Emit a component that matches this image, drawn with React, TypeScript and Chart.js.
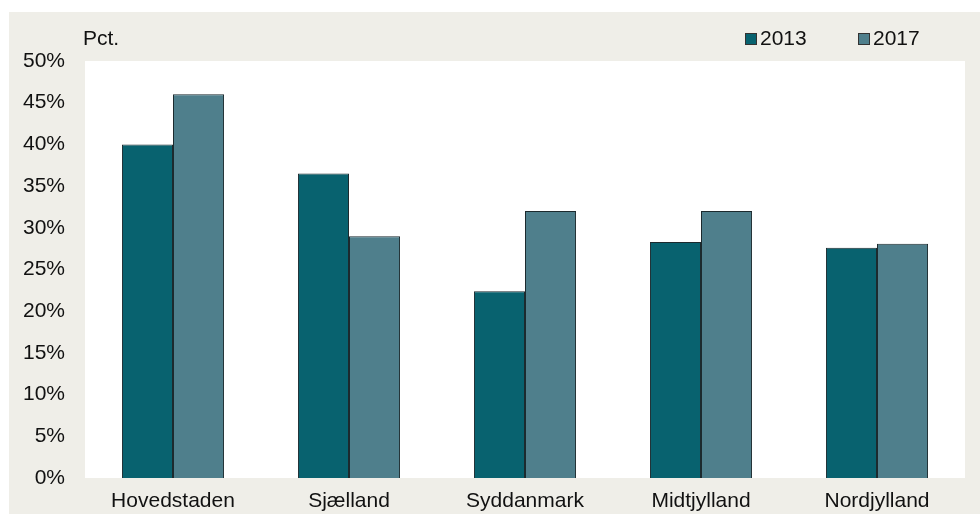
import React, { useEffect, useRef } from "react";
import { Chart, registerables } from "chart.js";

Chart.register(...registerables);

const categories = ["Hovedstaden", "Sjælland", "Syddanmark", "Midtjylland", "Nordjylland"];
const series2013 = [40.0, 36.5, 22.4, 28.3, 27.6];
const series2017 = [46.0, 29.0, 32.0, 32.0, 28.1];
const seriesLabels = ["2013", "2017"];
const seriesColors = ["#08626f", "#4f7f8c"];
const yTicks = [0, 5, 10, 15, 20, 25, 30, 35, 40, 45, 50];
const unitLabel = "Pct.";

const FONT = "'Liberation Sans', Arial, sans-serif";
const FS = 21;

const bgPlugin = {
  id: "bgPlugin",
  beforeDraw(chart: any) {
    const { ctx, chartArea, width, height } = chart;
    ctx.save();
    ctx.fillStyle = "#ffffff";
    ctx.fillRect(0, 0, width, height);
    ctx.fillStyle = "#efeee8";
    ctx.fillRect(9, 12, width - 9, height - 12);
    ctx.fillStyle = "#ffffff";
    ctx.fillRect(chartArea.left, chartArea.top, chartArea.right - chartArea.left, chartArea.bottom - chartArea.top);
    ctx.restore();
  },
  afterDraw(chart: any) {
    const { ctx } = chart;
    ctx.save();
    ctx.font = `${FS}px ${FONT}`;
    ctx.fillStyle = "#111";
    ctx.textBaseline = "middle";
    ctx.textAlign = "left";
    ctx.fillText(unitLabel, 83, 39);
    const starts = [745, 858];
    chart.data.datasets.forEach((ds: any, i: number) => {
      const x = starts[i];
      ctx.fillStyle = ds.backgroundColor;
      ctx.fillRect(x, 33, 11, 11);
      ctx.strokeStyle = "#333";
      ctx.lineWidth = 1;
      ctx.strokeRect(x + 0.5, 33.5, 11, 11);
      ctx.fillStyle = "#111";
      ctx.fillText(ds.label, x + 15, 39);
    });
    ctx.restore();
  },
};

export default function App() {
  const ref = useRef<HTMLCanvasElement>(null);
  useEffect(() => {
    if (!ref.current) return;
    const chart = new Chart(ref.current, {
      type: "bar",
      data: {
        labels: categories,
        datasets: [
          {
            label: seriesLabels[0],
            data: series2013,
            backgroundColor: seriesColors[0],
            borderColor: "#1c2a2e",
            borderWidth: 1,
            categoryPercentage: 0.58,
            barPercentage: 1,
          },
          {
            label: seriesLabels[1],
            data: series2017,
            backgroundColor: seriesColors[1],
            borderColor: "#1c2a2e",
            borderWidth: 1,
            categoryPercentage: 0.58,
            barPercentage: 1,
          },
        ],
      },
      options: {
        animation: false,
        responsive: false,
        devicePixelRatio: 1,
        layout: { padding: { left: 0, right: 15, top: 61, bottom: 0 } },
        plugins: { legend: { display: false }, tooltip: { enabled: false } },
        scales: {
          x: {
            grid: { display: false, drawTicks: false },
            border: { display: false },
            ticks: { color: "#111", font: { family: FONT, size: FS }, padding: 11, maxRotation: 0 },
            afterFit(scale: any) {
              scale.height = 36;
            },
          },
          y: {
            min: 0,
            max: 50,
            afterBuildTicks(scale: any) {
              scale.ticks = yTicks.map((v) => ({ value: v }));
            },
            grid: { display: false, drawTicks: false },
            border: { display: false },
            ticks: {
              color: "#111",
              font: { family: FONT, size: FS },
              padding: 20,
              callback: (v: any) => `${v}%`,
            },
            afterFit(scale: any) {
              scale.width = 85;
            },
          },
        },
      },
      plugins: [bgPlugin],
    });
    return () => chart.destroy();
  }, []);
  return (
    <div style={{ position: "fixed", left: 0, top: 0, width: 980, height: 514 }}>
      <canvas ref={ref} width={980} height={514} style={{ width: 980, height: 514, display: "block" }} />
    </div>
  );
}
